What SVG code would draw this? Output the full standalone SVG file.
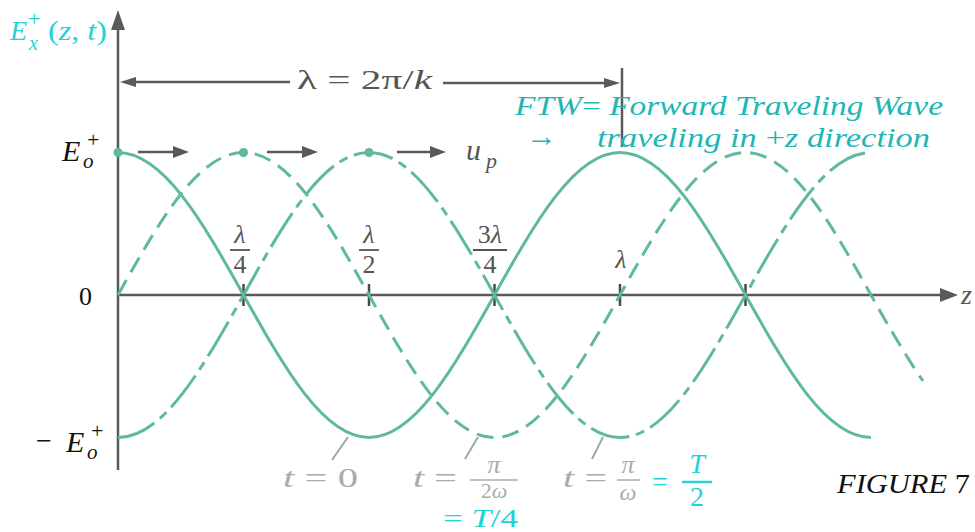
<svg xmlns="http://www.w3.org/2000/svg" width="975" height="532" viewBox="0 0 975 532">
<style>
  .wave{fill:none;stroke:#5fb99d;stroke-width:3;stroke-linecap:butt}
  .dash{stroke-dasharray:17 9}
  .dashdot{stroke-dasharray:40 7 9 7}
  .ax{stroke:#5a5a5a;stroke-width:2.5;fill:none}
  .axf{fill:#5a5a5a}
  .tick{stroke:#4a4a4a;stroke-width:2.5}
  .ptr{stroke:#9aaaa3;stroke-width:2}
  .serif{font-family:"Liberation Serif","Times New Roman","DejaVu Serif",serif}
  .it{font-style:italic}
  .gray{fill:#555555}
  .faded{fill:#a4afaa}
  .cyan{fill:#22d2d6}
  .teal{fill:#1fb6b6}
  .blk{fill:#111111}
</style>
<rect width="975" height="532" fill="#ffffff"/>

<g id="axes">
  <line class="ax" x1="118" y1="470" x2="118" y2="28"/>
  <polygon class="axf" points="118,10 111,30 125,30"/>
  <line class="ax" x1="118" y1="295" x2="942" y2="295"/>
  <polygon class="axf" points="958,295 940,288 940,302"/>
  <text class="serif it gray" x="961" y="304" font-size="28">z</text>
</g>

<g id="ticks">
  <line class="tick" x1="243.5" y1="284" x2="243.5" y2="306"/>
  <line class="tick" x1="369" y1="284" x2="369" y2="306"/>
  <line class="tick" x1="494.5" y1="284" x2="494.5" y2="306"/>
  <line class="tick" x1="620" y1="284" x2="620" y2="306"/>
  <line class="tick" x1="745.5" y1="284" x2="745.5" y2="306"/>
</g>

<g id="curves">
  <path class="wave" d="M118,152.5 c45.4,0 84.6,69.5 125.5,142.5 c40.9,73 80.1,142.5 125.5,142.5 c45.4,0 84.6,-69.5 125.5,-142.5 c40.9,-73 80.1,-142.5 125.5,-142.5 c45.4,0 84.6,69.5 125.5,142.5 c40.9,73 80.1,142.5 125.5,142.5"/>
  <path class="wave dash" d="M118,295 c40.9,-73 80.1,-142.5 125.5,-142.5 c45.4,0 84.6,69.5 125.5,142.5 c40.9,73 80.1,142.5 125.5,142.5 c45.4,0 84.6,-69.5 125.5,-142.5 c40.9,-73 80.1,-142.5 125.5,-142.5 c45.4,0 84.6,69.5 125.5,142.5 q33.6,60 52,86"/>
  <path class="wave dashdot" d="M118,437.5 c45.4,0 84.6,-69.5 125.5,-142.5 c40.9,-73 80.1,-142.5 125.5,-142.5 c45.4,0 84.6,69.5 125.5,142.5 c40.9,73 80.1,142.5 125.5,142.5 c45.4,0 84.6,-69.5 125.5,-142.5 c40.9,-73 80.1,-142.5 125.5,-142.5"/>
  <circle cx="118" cy="152.5" r="4.5" fill="#5fb99d"/>
  <circle cx="243.5" cy="152.5" r="4.5" fill="#5fb99d"/>
  <circle cx="369" cy="152.5" r="4.5" fill="#5fb99d"/>
</g>

<g id="velocity-arrows">
  <line class="ax" x1="138" y1="152" x2="175" y2="152"/>
  <polygon class="axf" points="189,152 173,146 173,158"/>
  <line class="ax" x1="267" y1="152" x2="304" y2="152"/>
  <polygon class="axf" points="318,152 302,146 302,158"/>
  <line class="ax" x1="397" y1="152" x2="432" y2="152"/>
  <polygon class="axf" points="446,152 430,146 430,158"/>
  <text class="serif it gray" x="466" y="160" font-size="30">u</text>
  <text class="serif it gray" x="486" y="168" font-size="22">p</text>
</g>

<g id="wavelength">
  <line class="ax" x1="134" y1="82" x2="290" y2="82"/>
  <polygon class="axf" points="120,82 136,77 136,87"/>
  <line class="ax" x1="443" y1="83" x2="606" y2="83"/>
  <polygon class="axf" points="620,83 604,78 604,88"/>
  <line class="ax" x1="622" y1="68" x2="622" y2="147"/>
  <text class="serif gray" x="297" y="89" font-size="28" textLength="135" lengthAdjust="spacingAndGlyphs">λ = 2π/<tspan class="it">k</tspan></text>
</g>

<g id="y-label">
  <text class="serif it cyan" x="10" y="40" font-size="28">E</text>
  <text class="serif cyan" x="28" y="26" font-size="22">+</text>
  <text class="serif it cyan" x="29" y="50" font-size="20">x</text>
  <text class="serif cyan" x="48" y="40" font-size="28" textLength="59" lengthAdjust="spacingAndGlyphs">(<tspan class="it">z</tspan>, <tspan class="it">t</tspan>)</text>
</g>

<g id="y-values">
  <text class="serif it blk" x="62" y="161" font-size="30">E</text>
  <text class="serif blk" x="87" y="147" font-size="22">+</text>
  <text class="serif it blk" x="83" y="168" font-size="21">o</text>
  <text class="serif blk" x="79" y="305" font-size="26">0</text>
  <text class="serif blk" x="36" y="450" font-size="28">−</text>
  <text class="serif it blk" x="66" y="452" font-size="30">E</text>
  <text class="serif blk" x="91" y="438" font-size="22">+</text>
  <text class="serif it blk" x="87" y="459" font-size="21">o</text>
</g>

<g id="tick-labels" class="serif gray" font-size="26" text-anchor="middle">
  <text x="240" y="243" class="it">λ</text>
  <line x1="230" y1="250" x2="250" y2="250" stroke="#555" stroke-width="1.8"/>
  <text x="240" y="273">4</text>
  <text x="369" y="243" class="it">λ</text>
  <line x1="359" y1="250" x2="379" y2="250" stroke="#555" stroke-width="1.8"/>
  <text x="369" y="273">2</text>
  <text x="490" y="243">3<tspan class="it">λ</tspan></text>
  <line x1="473" y1="250" x2="507" y2="250" stroke="#555" stroke-width="1.8"/>
  <text x="490" y="273">4</text>
  <text x="621" y="268" class="it">λ</text>
</g>

<g id="ftw-note">
  <text class="serif it teal" x="515" y="115" font-size="28" textLength="428" lengthAdjust="spacingAndGlyphs">FTW<tspan font-style="normal">=</tspan> Forward  Traveling  Wave</text>
  <text class="serif teal" x="526" y="146" font-size="30" textLength="31" lengthAdjust="spacingAndGlyphs">→</text>
  <text class="serif it teal" x="597" y="147" font-size="28" textLength="333" lengthAdjust="spacingAndGlyphs">traveling  in <tspan font-style="normal">+</tspan>z  direction</text>
</g>

<g id="time-labels">
  <line class="ptr" x1="348" y1="437" x2="332" y2="460"/>
  <line class="ptr" x1="478" y1="437" x2="465" y2="459"/>
  <line class="ptr" x1="603" y1="437" x2="592" y2="459"/>
  <text class="serif faded" x="283" y="487" font-size="28" textLength="75" lengthAdjust="spacingAndGlyphs"><tspan class="it">t</tspan> = 0</text>
  <text class="serif faded" x="413" y="487" font-size="28" textLength="44" lengthAdjust="spacingAndGlyphs"><tspan class="it">t</tspan> =</text>
  <text class="serif it faded" x="494" y="473" font-size="26" text-anchor="middle">π</text>
  <line x1="470" y1="480" x2="518" y2="480" stroke="#a4afaa" stroke-width="1.5"/>
  <text class="serif faded" x="494" y="498" font-size="22" text-anchor="middle">2<tspan class="it">ω</tspan></text>
  <text class="serif cyan" x="443" y="527" font-size="25" textLength="75" lengthAdjust="spacingAndGlyphs">= <tspan class="it">T</tspan>/4</text>
  <text class="serif faded" x="563" y="487" font-size="28" textLength="44" lengthAdjust="spacingAndGlyphs"><tspan class="it">t</tspan> =</text>
  <text class="serif it faded" x="628" y="473" font-size="26" text-anchor="middle">π</text>
  <line x1="617" y1="480" x2="640" y2="480" stroke="#a4afaa" stroke-width="1.5"/>
  <text class="serif it faded" x="628" y="500" font-size="24" text-anchor="middle">ω</text>
  <text class="serif cyan" x="652" y="491" font-size="28">=</text>
  <text class="serif it cyan" x="697" y="473" font-size="28" text-anchor="middle">T</text>
  <line x1="682" y1="482" x2="712" y2="482" stroke="#22d2d6" stroke-width="2.5"/>
  <text class="serif cyan" x="697" y="506" font-size="28" text-anchor="middle">2</text>
</g>

<g id="caption">
  <text class="serif it blk" x="837" y="493" font-size="28" textLength="133" lengthAdjust="spacingAndGlyphs">FIGURE  <tspan font-style="normal">7</tspan></text>
</g>
</svg>
